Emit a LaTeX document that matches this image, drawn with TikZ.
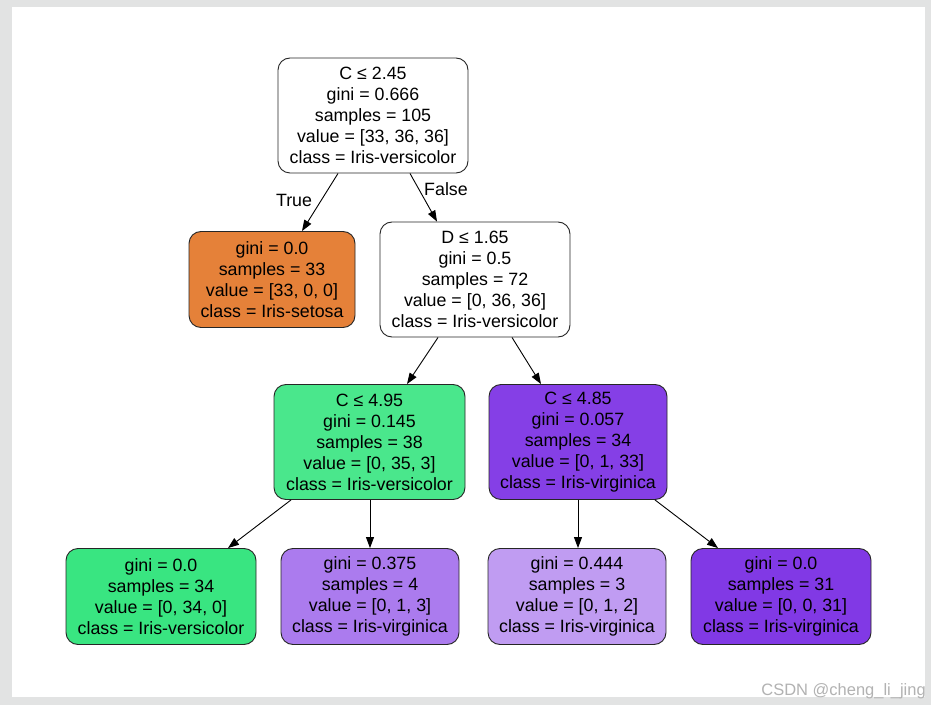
\documentclass[tikz,border=0pt]{standalone}
\usepackage{fontspec}
\setmainfont{Liberation Sans}
\usetikzlibrary{arrows.meta}
\definecolor{framegray}{RGB}{226,227,227}
\definecolor{cset}{RGB}{229,129,57}
\definecolor{cvers}{RGB}{57,229,129}
\definecolor{cversb}{RGB}{74,231,140}
\definecolor{cvirg}{RGB}{129,57,229}
\definecolor{cvirgb}{RGB}{133,63,230}
\definecolor{cvirgc}{RGB}{171,123,238}
\definecolor{cvirgd}{RGB}{192,156,242}
\definecolor{wmgray}{RGB}{178,178,178}
\tikzset{
  treenode/.style={draw=black!85, line width=0.9pt, rounded corners=12pt, align=center,
    font=\fontsize{17.8}{21}\selectfont, inner sep=0pt, minimum height=115pt},
  leafnode/.style={treenode, minimum height=96pt},
  edge/.style={line width=0.9pt, -{Triangle[length=11pt,width=8pt]}},
  elabel/.style={font=\fontsize{17.8}{21}\selectfont}
}
\begin{document}
\begin{tikzpicture}[x=1pt,y=1pt]
\useasboundingbox (0,0) rectangle (931,705);
\fill[framegray] (0,0) rectangle (931,705);
\fill[white] (12,8) rectangle (925,698);

\node[treenode, fill=white, minimum width=190pt] (root) at (373,589.5)
  {C ≤ 2.45\\gini = 0.666\\samples = 105\\value = [33, 36, 36]\\class = Iris-versicolor};
\node[leafnode, fill=cset, minimum width=166pt] (set) at (272,425.5)
  {gini = 0.0\\samples = 33\\value = [33, 0, 0]\\class = Iris-setosa};
\node[treenode, fill=white, minimum width=190pt] (d) at (475,425.5)
  {D ≤ 1.65\\gini = 0.5\\samples = 72\\value = [0, 36, 36]\\class = Iris-versicolor};
\node[treenode, fill=cversb, minimum width=191pt] (ca) at (369.5,263)
  {C ≤ 4.95\\gini = 0.145\\samples = 38\\value = [0, 35, 3]\\class = Iris-versicolor};
\node[treenode, fill=cvirgb, minimum width=178pt] (cb) at (578,263)
  {C ≤ 4.85\\gini = 0.057\\samples = 34\\value = [0, 1, 33]\\class = Iris-virginica};
\node[leafnode, fill=cvers, minimum width=190pt] (l1) at (161,108.5)
  {gini = 0.0\\samples = 34\\value = [0, 34, 0]\\class = Iris-versicolor};
\node[leafnode, fill=cvirgc, minimum width=178pt] (l2) at (370,108.5)
  {gini = 0.375\\samples = 4\\value = [0, 1, 3]\\class = Iris-virginica};
\node[leafnode, fill=cvirgd, minimum width=178pt] (l3) at (577,108.5)
  {gini = 0.444\\samples = 3\\value = [0, 1, 2]\\class = Iris-virginica};
\node[leafnode, fill=cvirg, minimum width=180pt] (l4) at (781,108.5)
  {gini = 0.0\\samples = 31\\value = [0, 0, 31]\\class = Iris-virginica};

\draw[edge] ([xshift=-35pt]root.south) -- ([xshift=30pt]set.north);
\draw[edge] ([xshift=37pt]root.south) -- ([xshift=-38pt]d.north);
\draw[edge] ([xshift=-37pt]d.south) -- ([xshift=37.5pt]ca.north);
\draw[edge] ([xshift=37pt]d.south) -- ([xshift=-37pt]cb.north);
\draw[edge] ([xshift=-78.5pt]ca.south) -- ([xshift=67pt]l1.north);
\draw[edge] ([xshift=0.5pt]ca.south) -- (l2.north);
\draw[edge] (cb.south) -- ([xshift=1pt]l3.north);
\draw[edge] ([xshift=77pt]cb.south) -- ([xshift=-63pt]l4.north);

\node[elabel] (tl) at (294,505) {True};
\node[elabel] (fl) at (446,516) {False};

\node[font=\fontsize{16.5}{19}\selectfont, text=wmgray, anchor=east, inner sep=0pt] (wm) at (926,14) {CSDN @cheng\_li\_jing};
\end{tikzpicture}
\end{document}
